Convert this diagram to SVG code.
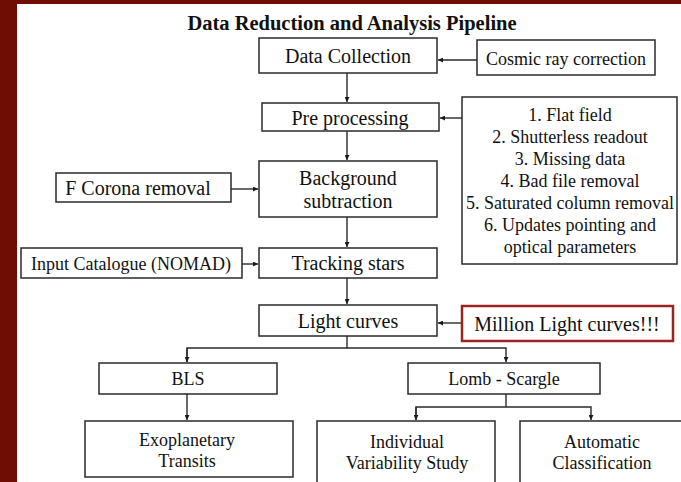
<svg xmlns="http://www.w3.org/2000/svg" width="681" height="482" viewBox="0 0 681 482">
<style>
.box{fill:#fff;stroke:#2a2a2a;stroke-width:1.5}
.red{fill:#fff;stroke:#9a2520;stroke-width:2.5}
.t{font-family:"Liberation Serif","Times New Roman",serif;fill:#111;text-anchor:middle}
.l{font-size:20px}
.s{font-size:18px}
.ln{fill:none;stroke:#2a2a2a;stroke-width:1.4}
</style>
<defs>
<marker id="ah" viewBox="0 0 10 10" refX="10" refY="5" markerWidth="5" markerHeight="5" markerUnits="userSpaceOnUse" orient="auto">
<path d="M0,0 L10,5 L0,10 z" fill="#1a1a1a"/>
</marker>
</defs>
<rect x="0" y="0" width="681" height="482" fill="#fff"/>
<rect x="0" y="0" width="681" height="4" fill="#6f0c04"/>
<rect x="0" y="0" width="17" height="482" fill="#6f0c04"/>
<text class="t" x="352" y="30" font-size="20.5" font-weight="bold">Data Reduction and Analysis Pipeline</text>

<g id="connectors">
<line class="ln" x1="477" y1="60" x2="438" y2="60" marker-end="url(#ah)"/>
<line class="ln" x1="462" y1="118" x2="440" y2="118" marker-end="url(#ah)"/>
<line class="ln" x1="231" y1="189" x2="258" y2="189" marker-end="url(#ah)"/>
<line class="ln" x1="242" y1="264" x2="258" y2="264" marker-end="url(#ah)"/>
<line class="ln" x1="462" y1="323" x2="438" y2="323" marker-end="url(#ah)"/>
<line class="ln" x1="347" y1="73" x2="347" y2="102" marker-end="url(#ah)"/>
<line class="ln" x1="347" y1="131" x2="347" y2="160" marker-end="url(#ah)"/>
<line class="ln" x1="347" y1="217" x2="347" y2="247" marker-end="url(#ah)"/>
<line class="ln" x1="347" y1="278" x2="347" y2="304" marker-end="url(#ah)"/>
<polyline class="ln" points="347,336 347,348"/>
<polyline class="ln" points="187,362 187,348 506,348 506,362" marker-end="url(#ah)"/>
<line class="ln" x1="187" y1="348" x2="187" y2="362" marker-end="url(#ah)"/>
<line class="ln" x1="187" y1="394" x2="187" y2="420" marker-end="url(#ah)"/>
<polyline class="ln" points="506,394 506,407"/>
<polyline class="ln" points="416,420 416,407 591,407 591,420" marker-end="url(#ah)"/>
<line class="ln" x1="416" y1="407" x2="416" y2="420" marker-end="url(#ah)"/>
</g>

<g id="data-collection"><rect class="box" x="259" y="38" width="178" height="35"/><text class="t l" x="348" y="63">Data Collection</text></g>
<g id="cosmic-ray"><rect class="box" x="477" y="40" width="178" height="35"/><text class="t s" x="566" y="65">Cosmic ray correction</text></g>
<g id="pre-processing"><rect class="box" x="262" y="103" width="177" height="28"/><text class="t l" x="350" y="125">Pre processing</text></g>
<g id="steps"><rect class="box" x="462" y="97" width="215" height="167"/>
<text class="t s" x="570" y="121">1. Flat field</text>
<text class="t s" x="570" y="143">2. Shutterless readout</text>
<text class="t s" x="570" y="165">3. Missing data</text>
<text class="t s" x="570" y="187">4. Bad file removal</text>
<text class="t s" x="570" y="209">5. Saturated column removal</text>
<text class="t s" x="570" y="231">6. Updates pointing and</text>
<text class="t s" x="570" y="253">optical parameters</text>
</g>
<g id="f-corona"><rect class="box" x="56" y="173" width="175" height="29"/><text class="t l" x="138" y="195">F Corona removal</text></g>
<g id="background"><rect class="box" x="259" y="161" width="178" height="56"/><text class="t l" x="348" y="185">Background</text><text class="t l" x="348" y="208">subtraction</text></g>
<g id="input-catalogue"><rect class="box" x="21" y="248" width="221" height="30"/><text class="t s" x="131" y="270">Input Catalogue (NOMAD)</text></g>
<g id="tracking"><rect class="box" x="259" y="248" width="178" height="30"/><text class="t l" x="348" y="270">Tracking stars</text></g>
<g id="light-curves"><rect class="box" x="259" y="305" width="178" height="31"/><text class="t l" x="348" y="328">Light curves</text></g>
<g id="million"><rect class="red" x="462" y="306" width="211" height="35"/><text class="t l" x="567" y="331">Million Light curves!!!</text></g>
<g id="bls"><rect class="box" x="99" y="363" width="178" height="31"/><text class="t s" x="188" y="385">BLS</text></g>
<g id="lomb"><rect class="box" x="408" y="363" width="192" height="31"/><text class="t s" x="504" y="385">Lomb - Scargle</text></g>
<g id="exoplanetary"><rect class="box" x="85" y="421" width="208" height="56"/><text class="t s" x="187" y="446">Exoplanetary</text><text class="t s" x="187" y="467">Transits</text></g>
<g id="individual"><rect class="box" x="317" y="421" width="178" height="70"/><text class="t s" x="407" y="448">Individual</text><text class="t s" x="407" y="469">Variability Study</text></g>
<g id="automatic"><rect class="box" x="520" y="421" width="170" height="70"/><text class="t s" x="602" y="448">Automatic</text><text class="t s" x="602" y="469">Classification</text></g>
</svg>
